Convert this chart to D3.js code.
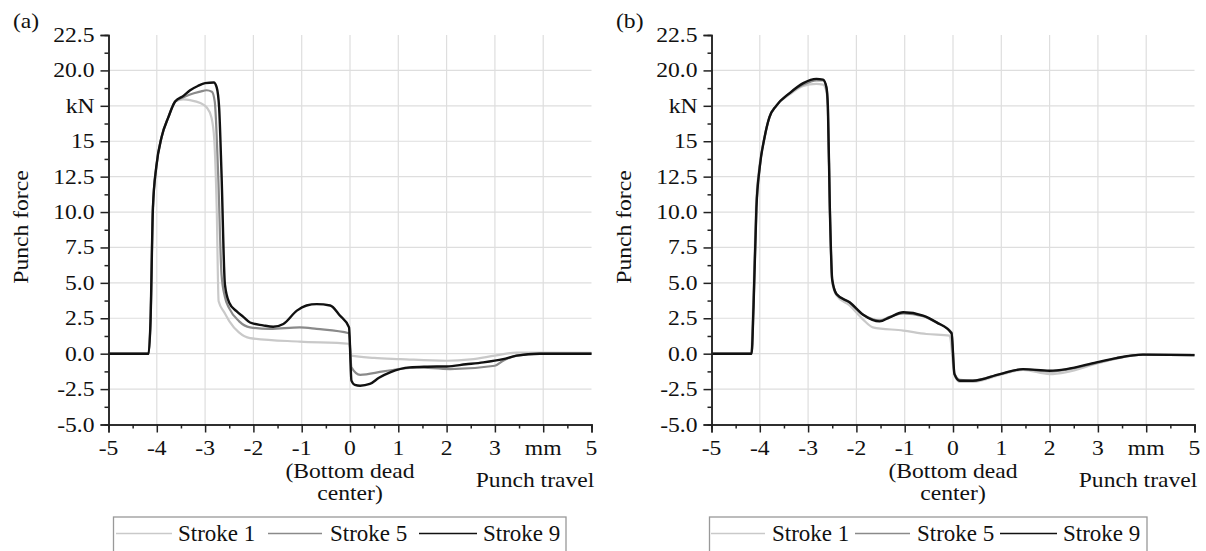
<!DOCTYPE html>
<html>
<head>
<meta charset="utf-8">
<script src="https://cdn.jsdelivr.net/npm/d3@7"></script>
<style>
  body { margin: 0; background: #fff; }
  svg { display: block; }
  text { font-family: "Liberation Serif", "Times New Roman", serif; fill: #111; }
</style>
</head>
<body>
<div id="chart"></div>
<script>
// ---- data (punch travel in mm, punch force in kN) ----
const seriesNames = ["Stroke 1", "Stroke 5", "Stroke 9"];
const seriesColors = ["#c9c9c9", "#8a8a8a", "#111111"];

const xTickValues = [-5, -4, -3, -2, -1, 0, 1, 2, 3, 4, 5];
const xTickLabels = ["-5", "-4", "-3", "-2", "-1", "0", "1", "2", "3", "mm", "5"];
const yTickValues = [-5, -2.5, 0, 2.5, 5, 7.5, 10, 12.5, 15, 17.5, 20, 22.5];
const yTickLabels = ["-5.0", "-2.5", "0.0", "2.5", "5.0", "7.5", "10.0", "12.5", "15", "kN", "20.0", "22.5"];

// panel (a)
const aStroke1 = [[-5, 0], [-4.17, 0], [-4.13, 2.3], [-4.08, 10.3], [-4.01, 13.2], [-3.9, 15.3], [-3.76, 16.7], [-3.62, 17.8],
  [-3.45, 17.95], [-3.31, 17.9], [-3.1, 17.7], [-2.97, 17.4], [-2.87, 16.7], [-2.81, 15.1], [-2.76, 10.3], [-2.72, 3.7],
  [-2.6, 2.9], [-2.5, 2.3], [-2.3, 1.5], [-2.07, 1.1], [-1.04, 0.85], [-0.02, 0.7], [0.03, -0.14], [0.5, -0.3],
  [1.04, -0.38], [2.0, -0.5], [2.5, -0.4], [3.0, -0.14], [3.45, 0.08], [5, 0.05]];
const aStroke5 = [[-5, 0], [-4.17, 0], [-4.13, 2.3], [-4.08, 10.3], [-4.01, 13.2], [-3.9, 15.3], [-3.76, 16.7], [-3.62, 17.8],
  [-3.45, 18.1], [-3.31, 18.3], [-3.1, 18.5], [-2.97, 18.6], [-2.86, 18.5], [-2.8, 17.8], [-2.73, 12.7], [-2.66, 5.6],
  [-2.59, 4.0], [-2.5, 3.2], [-2.3, 2.3], [-2.07, 1.86], [-1.66, 1.75], [-1.04, 1.86], [-0.69, 1.75], [-0.02, 1.44],
  [0.03, -0.97], [0.21, -1.49], [0.69, -1.25], [1.38, -0.97], [2.07, -1.09], [3.0, -0.85], [3.17, -0.5], [3.45, -0.14],
  [3.93, 0], [5, 0]];
const aStroke9 = [[-5, 0], [-4.17, 0], [-4.13, 2.3], [-4.08, 10.3], [-4.01, 13.2], [-3.9, 15.3], [-3.76, 16.7], [-3.62, 17.8],
  [-3.45, 18.2], [-3.31, 18.6], [-3.15, 18.9], [-3.0, 19.1], [-2.82, 19.15], [-2.76, 18.8], [-2.71, 17.4], [-2.66, 12.7],
  [-2.59, 4.9], [-2.5, 3.6], [-2.35, 3.0], [-2.21, 2.6], [-2.07, 2.2], [-1.8, 2.0], [-1.59, 1.9], [-1.38, 2.1],
  [-1.1, 3.04], [-0.9, 3.4], [-0.69, 3.5], [-0.41, 3.4], [-0.21, 2.7], [-0.02, 1.86], [0.03, -1.9], [0.1, -2.2],
  [0.21, -2.26], [0.41, -2.14], [0.6, -1.7], [0.83, -1.32], [1.24, -0.97], [1.6, -0.92], [2.0, -0.9], [2.4, -0.75],
  [2.76, -0.61], [3.17, -0.38], [3.45, -0.14], [3.93, 0], [5, 0]];

// panel (b)
const bStroke1 = [[-5, 0], [-4.18, 0], [-4.14, 3.3], [-4.08, 10.3], [-4.01, 13.2], [-3.9, 15.3], [-3.8, 16.7], [-3.66, 17.5],
  [-3.38, 18.3], [-3.1, 18.9], [-2.83, 19.05], [-2.69, 19.0], [-2.62, 18.5], [-2.59, 17.2], [-2.55, 10.3], [-2.5, 5.0],
  [-2.41, 4.1], [-2.14, 3.4], [-1.86, 2.4], [-1.66, 1.86], [-1.03, 1.63], [-0.55, 1.39], [-0.07, 1.27], [0.03, -1.5],
  [0.14, -2.0], [0.41, -2.0], [0.97, -1.5], [1.45, -1.15], [2.0, -1.44], [2.35, -1.3], [2.97, -0.7], [3.38, -0.35],
  [3.93, -0.07], [5, -0.1]];
const bStroke5 = [[-5, 0], [-4.17, 0], [-4.13, 3.3], [-4.07, 10.3], [-4.0, 13.2], [-3.9, 15.3], [-3.8, 16.7], [-3.66, 17.5],
  [-3.38, 18.4], [-3.1, 19.0], [-2.83, 19.3], [-2.69, 19.3], [-2.62, 18.8], [-2.59, 17.4], [-2.55, 10.3], [-2.5, 5.2],
  [-2.41, 4.2], [-2.14, 3.6], [-1.86, 2.75], [-1.52, 2.35], [-1.31, 2.6], [-1.03, 2.85], [-0.62, 2.65], [-0.34, 2.2],
  [-0.03, 1.5], [0.03, -1.4], [0.14, -1.85], [0.41, -1.9], [0.97, -1.45], [1.45, -1.1], [2.0, -1.25], [2.35, -1.12],
  [2.97, -0.65], [3.38, -0.33], [3.93, -0.07], [5, -0.1]];
const bStroke9 = [[-5, 0], [-4.17, 0], [-4.13, 3.3], [-4.07, 10.3], [-4.0, 13.2], [-3.9, 15.3], [-3.8, 16.7], [-3.66, 17.5],
  [-3.38, 18.4], [-3.1, 19.1], [-2.83, 19.4], [-2.69, 19.35], [-2.62, 18.8], [-2.59, 17.4], [-2.55, 10.3], [-2.5, 5.2],
  [-2.41, 4.2], [-2.14, 3.63], [-1.86, 2.75], [-1.52, 2.28], [-1.31, 2.57], [-1.03, 2.92], [-0.62, 2.69], [-0.34, 2.21],
  [-0.03, 1.44], [0.03, -1.44], [0.14, -1.91], [0.41, -1.91], [0.97, -1.44], [1.45, -1.09], [2.0, -1.2], [2.35, -1.09],
  [2.97, -0.61], [3.38, -0.31], [3.93, -0.07], [5, -0.1]];

// ---- layout ----
const width = 1206;
const height = 551;

const svg = d3.select("#chart")
    .append("svg")
    .attr("width", width)
    .attr("height", height);

// the source type is a bit wider than Liberation Serif, so stretch it
function txt(g, x, y, str, anchor, opts) {
    const o = opts || {};
    const fs = o.fs || 20;
    const sx = o.sx || 1.18;
    return g.append("text")
        .attr("transform", `translate(${x},${y})${o.rotate ? " rotate(-90)" : ""} scale(${sx},1)`)
        .attr("text-anchor", anchor || "start")
        .style("font-size", `${fs}px`)
        .text(str);
}

function drawPanel(ox, tag, series, legendPos) {
    const g = svg.append("g").attr("transform", `translate(${ox},0)`);

    const x = d3.scaleLinear().domain([-5, 5]).range([108.5, 591.5]);
    const y = d3.scaleLinear().domain([-5, 22.5]).range([424.5, 35]);

    // grid
    g.append("g").selectAll("line")
        .data(xTickValues.filter((v) => v > -5 && v < 5))
        .enter().append("line")
        .attr("x1", (d) => x(d)).attr("x2", (d) => x(d))
        .attr("y1", y(-5)).attr("y2", y(22.5))
        .style("stroke", "#dedede").style("stroke-width", 1.2);
    g.append("g").selectAll("line")
        .data(yTickValues.filter((v) => v > -5 && v < 22.5))
        .enter().append("line")
        .attr("x1", x(-5)).attr("x2", x(5))
        .attr("y1", (d) => y(d)).attr("y2", (d) => y(d))
        .style("stroke", "#dedede").style("stroke-width", 1.2);

    // curves
    const line = d3.line()
        .x((d) => x(d[0]))
        .y((d) => y(d[1]))
        .curve(d3.curveMonotoneX);

    series.forEach((s, i) => {
        g.append("path")
            .attr("d", line(s))
            .style("fill", "none")
            .style("stroke", seriesColors[i])
            .style("stroke-width", i === 2 ? 2.4 : 2.2)
            .style("stroke-linejoin", "round");
    });

    // axes (major + minor ticks), labels drawn by hand below
    const minorX = xTickValues.slice(0, -1).map((v) => v + 0.5);
    const minorY = yTickValues.slice(0, -1).map((v) => v + 1.25);

    const axes = g.append("g").attr("class", "axes");
    axes.append("g")
        .attr("transform", `translate(0,${y(-5)})`)
        .call(d3.axisBottom(x).tickValues(xTickValues).tickSize(8).tickFormat(""));
    axes.append("g")
        .attr("transform", `translate(0,${y(-5)})`)
        .call(d3.axisBottom(x).tickValues(minorX).tickSize(4).tickFormat(""));
    axes.append("g")
        .attr("transform", `translate(${x(-5)},0)`)
        .call(d3.axisLeft(y).tickValues(yTickValues).tickSize(8).tickFormat(""));
    axes.append("g")
        .attr("transform", `translate(${x(-5)},0)`)
        .call(d3.axisLeft(y).tickValues(minorY).tickSize(4).tickFormat(""));
    axes.selectAll("path, line").style("stroke", "#222").style("stroke-width", 1.5);

    xTickValues.forEach((v, i) => txt(g, x(v), 455, xTickLabels[i], "middle"));
    yTickValues.forEach((v, i) => txt(g, x(-5) - 14, y(v) + 7, yTickLabels[i], "end"));

    // titles
    txt(g, 13, 28, tag, "start");
    txt(g, 28, 227, "Punch force", "middle", { rotate: true });
    txt(g, 535, 487, "Punch travel", "middle");
    txt(g, x(0), 478, "(Bottom dead", "middle");
    txt(g, x(0), 500, "center)", "middle");

    // legend
    const lg = svg.append("g");
    lg.append("rect")
        .attr("x", legendPos.box[0]).attr("y", 517)
        .attr("width", legendPos.box[1] - legendPos.box[0]).attr("height", 40)
        .style("fill", "#fff").style("stroke", "#999").style("stroke-width", 1.3);
    seriesNames.forEach((name, i) => {
        const [l0, l1, t0] = legendPos.items[i];
        lg.append("line")
            .attr("x1", l0).attr("x2", l1).attr("y1", 533.5).attr("y2", 533.5)
            .style("stroke", seriesColors[i]).style("stroke-width", 1.6);
        txt(lg, t0, 541, name, "start", { fs: 23, sx: 1.0 });
    });
}

drawPanel(0, "(a)", [aStroke1, aStroke5, aStroke9], {
    box: [113.5, 566],
    items: [[116, 172, 178], [268, 322, 330], [419, 477, 483]]
});
drawPanel(603, "(b)", [bStroke1, bStroke5, bStroke9], {
    box: [709.5, 1147],
    items: [[711, 765, 772], [855, 910, 917], [1000, 1057, 1063]]
});
</script>
</body>
</html>
